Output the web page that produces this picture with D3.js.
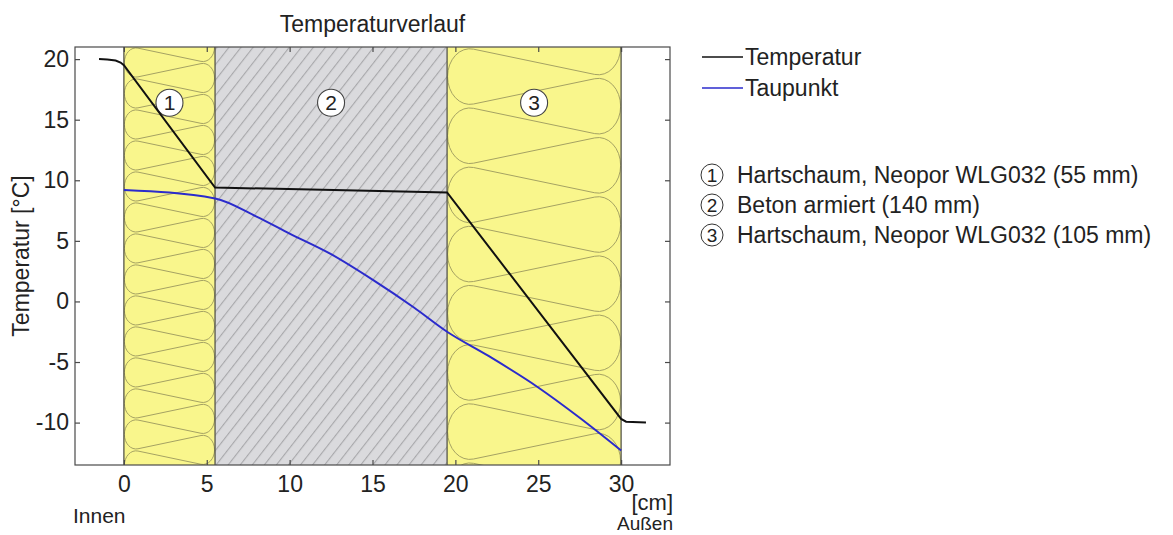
<!DOCTYPE html>
<html>
<head>
<meta charset="utf-8">
<script src="https://cdn.jsdelivr.net/npm/d3@7"></script>
<style>
  html, body { margin: 0; padding: 0; background: #fff; }
  svg { display: block; font-family: "Liberation Sans", Arial, sans-serif; }
</style>
</head>
<body>
<svg id="chart" width="1173" height="535"></svg>
<script>
// ---- data ----
const xTicks = [0, 5, 10, 15, 20, 25, 30];
const yTicks = [-10, -5, 0, 5, 10, 15, 20];
const layerNumbers = [1, 2, 3];
const layerNames = [
  "Hartschaum, Neopor WLG032 (55 mm)",
  "Beton armiert (140 mm)",
  "Hartschaum, Neopor WLG032 (105 mm)"
];
const layerThickness = [5.5, 14.0, 10.5]; // cm
const layerMaterial = ["insulation", "concrete", "insulation"];

const tempPos = [-1.5, -1.0, -0.5, -0.2, 0, 5.5, 19.5, 30, 30.3, 31.5];
const tempVal = [20.0, 19.97, 19.88, 19.72, 19.5, 9.4, 9.0, -9.7, -9.93, -10.0];
const dewPos = [0, 5.5, 8, 10, 12.5, 15, 17.5, 19.5, 22, 25, 27.5, 30];
const dewVal = [9.2, 8.5, 7.0, 5.6, 3.9, 1.8, -0.5, -2.5, -4.5, -7.1, -9.6, -12.3];
const seriesNames = ["Temperatur", "Taupunkt"];
const seriesColors = ["#111111", "#2b2bcc"];

// ---- layout ----
const plot = { left: 75, right: 670, top: 47, bottom: 465 };
const svg = d3.select("#chart");
const x = d3.scaleLinear().domain([-2.95, 32.95]).range([plot.left, plot.right]);
const y = d3.scaleLinear().domain([-13.5, 21]).range([plot.bottom, plot.top]);
const textColor = "#222";

const defs = svg.append("defs");
defs.append("clipPath").attr("id", "plotClip")
  .append("rect")
  .attr("x", plot.left).attr("y", plot.top)
  .attr("width", plot.right - plot.left).attr("height", plot.bottom - plot.top);

// concrete hatch
const hatch = defs.append("pattern")
  .attr("id", "concreteHatch")
  .attr("patternUnits", "userSpaceOnUse")
  .attr("width", 9.5).attr("height", 20)
  .attr("patternTransform", "rotate(38)");
hatch.append("rect").attr("width", 9.5).attr("height", 20).attr("fill", "#dadadd");
hatch.append("line").attr("x1", 0.6).attr("y1", 0).attr("x2", 0.6).attr("y2", 20)
  .attr("stroke", "#a2a2a5").attr("stroke-width", 1);

// layer boundaries from cumulative thickness
let acc = 0;
const layers = layerThickness.map((t, i) => {
  const l = { x0: acc, x1: acc + t, num: layerNumbers[i], name: layerNames[i], material: layerMaterial[i] };
  acc += t;
  return l;
});

// insulation symbol: loops built from circles on both sides joined by crossing tangents,
// drawn in a narrowed space and stretched horizontally so the loop ends become ellipses
function crossTangent(P, Q, r) {
  const M = [(P[0] + Q[0]) / 2, (P[1] + Q[1]) / 2];
  const d = Math.hypot(M[0] - P[0], M[1] - P[1]);
  const a = Math.acos(Math.min(1, r / d));
  const phi = Math.atan2(M[1] - P[1], M[0] - P[0]);
  const c = Math.sin(phi + a) > Math.sin(phi - a) ? phi + a : phi - a;
  const Tp = [P[0] + r * Math.cos(c), P[1] + r * Math.sin(c)];
  const Tq = [2 * M[0] - Tp[0], 2 * M[1] - Tp[1]];
  return [Tp, Tq];
}
function angleOf(C, T) { return Math.atan2(T[1] - C[1], T[0] - C[0]); }
function norm(a) { a %= 2 * Math.PI; return a < 0 ? a + 2 * Math.PI : a; }

const loopSquash = 0.8;
function insulationPath(W, top, bottom) {
  const Wn = W / loopSquash;
  const p = 0.34 * W, r = 0.47 * p;
  const cxL = r + 0.6, cxR = Wn - r - 0.6;
  const n = Math.ceil((bottom - top) / p) + 2;
  const path = d3.path();
  let started = false;
  for (let k = -2; k < n; k++) {
    const yl = top + p / 2 + k * p;
    const P = [cxL, yl], Q = [cxR, yl + p / 2], P2 = [cxL, yl + p];
    const [a0, a1] = crossTangent(P, Q, r);
    const [b0, b1] = crossTangent(Q, P2, r);
    if (!started) { path.moveTo(a0[0], a0[1]); started = true; }
    path.lineTo(a1[0], a1[1]);
    const s = angleOf(Q, a1), e = angleOf(Q, b0);
    path.arc(Q[0], Q[1], r, s, s + norm(e - s), false);
    path.lineTo(b1[0], b1[1]);
    const [n0] = crossTangent(P2, [cxR, yl + p + p / 2], r);
    const s2 = angleOf(P2, b1), e2 = angleOf(P2, n0);
    path.arc(P2[0], P2[1], r, s2, s2 - norm(s2 - e2), true);
  }
  return path.toString();
}

const layerG = svg.append("g").attr("clip-path", "url(#plotClip)");
layers.forEach((l, i) => {
  const L = x(l.x0), R = x(l.x1);
  defs.append("clipPath").attr("id", "layerClip" + i)
    .append("rect").attr("x", L).attr("y", plot.top).attr("width", R - L).attr("height", plot.bottom - plot.top);
  if (l.material === "concrete") {
    layerG.append("rect")
      .attr("x", L).attr("y", plot.top).attr("width", R - L).attr("height", plot.bottom - plot.top)
      .attr("fill", "url(#concreteHatch)");
  } else {
    layerG.append("rect")
      .attr("x", L).attr("y", plot.top).attr("width", R - L).attr("height", plot.bottom - plot.top)
      .attr("fill", "#f9f68c");
    layerG.append("g").attr("clip-path", "url(#layerClip" + i + ")")
      .append("path")
      .attr("transform", `translate(${L},0) scale(${loopSquash},1)`)
      .attr("d", insulationPath(R - L, plot.top, plot.bottom))
      .attr("vector-effect", "non-scaling-stroke")
      .attr("fill", "none").attr("stroke", "#a5a263").attr("stroke-width", 1);
  }
});

// layer borders
const borders = [layers[0].x0].concat(layers.map(l => l.x1));
layerG.selectAll("line.border").data(borders).enter().append("line")
  .attr("x1", d => x(d)).attr("x2", d => x(d))
  .attr("y1", plot.top).attr("y2", plot.bottom)
  .attr("stroke", "#55554a").attr("stroke-width", 1.3);

// number badges
const badgeTemp = 16.4;
const badges = svg.append("g").selectAll("g").data(layers).enter().append("g")
  .attr("transform", l => `translate(${x((l.x0 + l.x1) / 2)},${y(badgeTemp)})`);
badges.append("circle").attr("r", 13.5).attr("fill", "#fff").attr("stroke", "#444").attr("stroke-width", 1.1);
badges.append("text").text(l => l.num)
  .attr("text-anchor", "middle").attr("dy", "0.36em")
  .attr("font-size", 21).attr("fill", textColor);

// curves
const line = d3.line().x(d => x(d[0])).y(d => y(d[1]));
const tempData = tempPos.map((p, i) => [p, tempVal[i]]);
const dewData = dewPos.map((p, i) => [p, dewVal[i]]);
svg.append("path").attr("d", line.curve(d3.curveMonotoneX)(dewData))
  .attr("fill", "none").attr("stroke", seriesColors[1]).attr("stroke-width", 2);
svg.append("path").attr("d", line.curve(d3.curveLinear)(tempData))
  .attr("fill", "none").attr("stroke", seriesColors[0]).attr("stroke-width", 2);

// axes box with inward ticks
const axisColor = "#4a4a4a";
svg.append("rect")
  .attr("x", plot.left).attr("y", plot.top)
  .attr("width", plot.right - plot.left).attr("height", plot.bottom - plot.top)
  .attr("fill", "none").attr("stroke", axisColor).attr("stroke-width", 1.2);

const tickLen = 5;
const plainNumber = d => String(d);
const gx = svg.append("g").attr("transform", `translate(0,${plot.bottom})`)
  .call(d3.axisBottom(x).tickValues(xTicks).tickSize(-tickLen).tickPadding(11).tickFormat(plainNumber));
const gxTop = svg.append("g").attr("transform", `translate(0,${plot.top})`)
  .call(d3.axisTop(x).tickValues(xTicks).tickSize(-tickLen).tickFormat(""));
const gy = svg.append("g").attr("transform", `translate(${plot.left},0)`)
  .call(d3.axisLeft(y).tickValues(yTicks).tickSize(-tickLen).tickPadding(6).tickFormat(plainNumber));
const gyRight = svg.append("g").attr("transform", `translate(${plot.right},0)`)
  .call(d3.axisRight(y).tickValues(yTicks).tickSize(-tickLen).tickFormat(""));
[gx, gxTop, gy, gyRight].forEach(g => {
  g.select(".domain").remove();
  g.selectAll(".tick line").attr("stroke", axisColor).attr("stroke-width", 1.2);
  g.selectAll(".tick text").attr("font-size", 23).attr("fill", textColor)
    .attr("font-family", "'Liberation Sans', Arial, sans-serif");
});

// titles and labels
svg.append("text").text("Temperaturverlauf")
  .attr("x", (plot.left + plot.right) / 2).attr("y", 32)
  .attr("text-anchor", "middle").attr("font-size", 23).attr("fill", textColor);
svg.append("text").text("Temperatur [°C]")
  .attr("transform", `translate(29,${(plot.top + plot.bottom) / 2}) rotate(-90)`)
  .attr("text-anchor", "middle").attr("font-size", 23).attr("fill", textColor);
svg.append("text").text("Innen")
  .attr("x", 73).attr("y", 523).attr("font-size", 21).attr("fill", textColor);
svg.append("text").text("[cm]")
  .attr("x", 673).attr("y", 510).attr("text-anchor", "end").attr("font-size", 22).attr("fill", textColor);
svg.append("text").text("Außen")
  .attr("x", 673).attr("y", 530).attr("text-anchor", "end").attr("font-size", 19).attr("fill", textColor);

// legend: series
const legSeries = svg.append("g").selectAll("g").data(seriesNames).enter().append("g")
  .attr("transform", (d, i) => `translate(702,${57 + i * 31})`);
legSeries.append("line").attr("x1", 0).attr("x2", 41).attr("y1", 0).attr("y2", 0)
  .attr("stroke", (d, i) => seriesColors[i]).attr("stroke-width", 1.6);
legSeries.append("text").text(d => d).attr("x", 43).attr("dy", "0.35em")
  .attr("font-size", 23).attr("fill", textColor);

// legend: layers
const legLayers = svg.append("g").selectAll("g").data(layers).enter().append("g")
  .attr("transform", (d, i) => `translate(712,${175 + i * 30})`);
legLayers.append("circle").attr("r", 11).attr("fill", "#fff").attr("stroke", "#333").attr("stroke-width", 1);
legLayers.append("text").text(d => d.num).attr("text-anchor", "middle").attr("dy", "0.36em")
  .attr("font-size", 19).attr("fill", textColor);
legLayers.append("text").text(d => d.name).attr("x", 25).attr("dy", "0.36em")
  .attr("font-size", 23).attr("fill", textColor);
</script>
</body>
</html>
